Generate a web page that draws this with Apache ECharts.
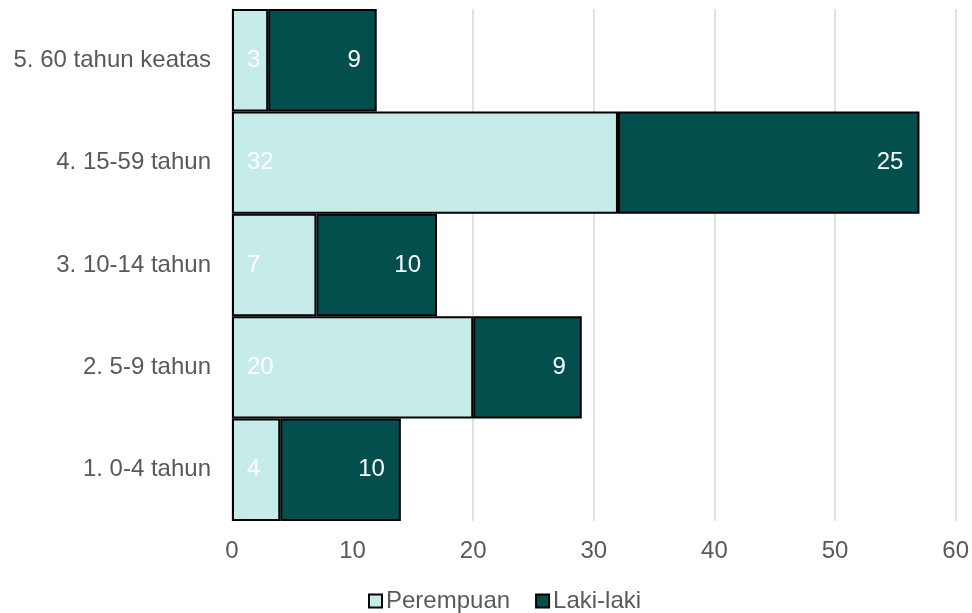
<!DOCTYPE html>
<html>
<head>
<meta charset="utf-8">
<script src="https://cdn.jsdelivr.net/npm/echarts@6/dist/echarts.min.js"></script>
<style>
  html, body { margin: 0; padding: 0; background: #fff; }
  #chart { width: 972px; height: 613px; }
</style>
</head>
<body>
<div id="chart"></div>
<script>
  const categories = ['1. 0-4 tahun', '2. 5-9 tahun', '3. 10-14 tahun', '4. 15-59 tahun', '5. 60 tahun keatas']
  const perempuan = [4, 20, 7, 32, 3]
  const lakiLaki = [10, 9, 10, 25, 9]
  const xTicks = [0, 10, 60]

  const font = "'Liberation Sans', Arial, sans-serif"
  const chart = echarts.init(document.getElementById('chart'))
  const option = {
    animation: false,
    textStyle: { fontFamily: font },
    grid: { left: 232, right: 15, top: 9, bottom: 92 },
    xAxis: {
      type: 'value',
      min: xTicks[0],
      max: xTicks[2],
      interval: xTicks[1],
      axisLine: { show: false },
      axisTick: { show: false },
      axisLabel: { color: '#595959', fontSize: 24, fontFamily: font, margin: 18 },
      splitLine: { lineStyle: { color: '#d9d9d9', width: 1.5 } }
    },
    yAxis: {
      type: 'category',
      data: categories,
      axisLine: { lineStyle: { color: '#bfbfbf', width: 1 } },
      axisTick: { show: false },
      axisLabel: { color: '#595959', fontSize: 24, fontFamily: font, margin: 21 }
    },
    legend: {
      top: 589,
      left: 368,
      padding: 0,
      itemWidth: 13,
      itemHeight: 13,
      itemGap: 25,
      icon: 'rect',
      textStyle: { color: '#595959', fontSize: 24, fontFamily: font, padding: [0, 0, 0, -1] },
      data: ['Perempuan', 'Laki-laki']
    },
    series: [
      {
        name: 'Perempuan',
        type: 'bar',
        stack: 'total',
        barCategoryGap: 0,
        data: perempuan,
        itemStyle: { color: '#c6ece9', borderColor: '#000', borderWidth: 2 },
        label: {
          show: true,
          position: 'insideLeft',
          distance: 15,
          color: '#fff',
          fontSize: 24,
          fontFamily: font
        }
      },
      {
        name: 'Laki-laki',
        type: 'bar',
        stack: 'total',
        barCategoryGap: 0,
        data: lakiLaki,
        itemStyle: { color: '#034f4e', borderColor: '#000', borderWidth: 2 },
        label: {
          show: true,
          position: 'insideRight',
          distance: 16,
          color: '#fff',
          fontSize: 24,
          fontFamily: font
        }
      }
    ]
  }
  chart.setOption(option, true)
</script>
</body>
</html>
